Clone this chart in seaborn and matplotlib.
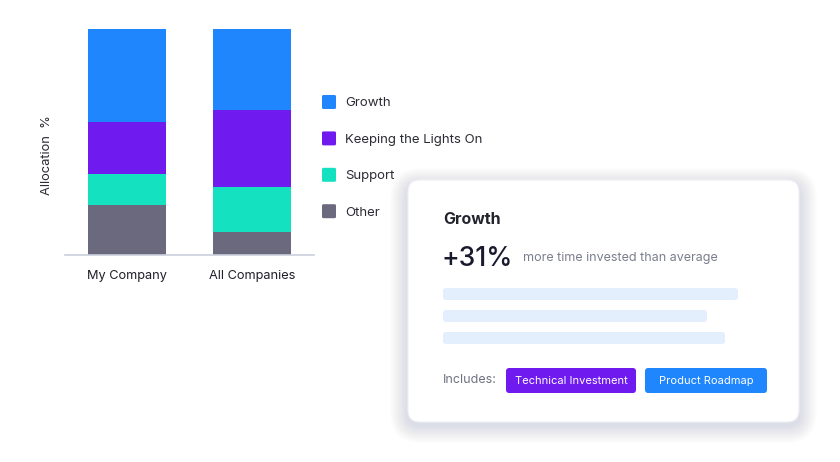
import numpy as np
import pandas as pd
import matplotlib.pyplot as plt
import seaborn as sns
from matplotlib.patches import FancyBboxPatch
from matplotlib.transforms import IdentityTransform

# ---------------------------------------------------------
# Data (allocation %)
# ---------------------------------------------------------
companies = ["My Company", "All Companies"]
categories = ["Growth", "Keeping the Lights On", "Support", "Other"]
growth = [41, 36]
keeping_lights_on = [23, 34]
support = [14, 20]
other = [22, 10]
colors = ["#1F86FE", "#6F1AEE", "#14E1C0", "#6B697D"]

card_title = "Growth"
card_value = "+31%"
card_caption = "more time invested than average"
card_tags = ["Technical Investment", "Product Roadmap"]
tag_colors = ["#6F1AEE", "#1F86FE"]

sns.set_theme(style="white")
plt.rcParams["font.family"] = ["Inter", "DejaVu Sans"]

W, H = 840, 462
fig = plt.figure(figsize=(W / 100, H / 100), dpi=100)
fig.patch.set_facecolor("white")
PX = IdentityTransform()  # pixel coords (origin bottom-left)


def fx(px):
    return px / W


def fy(py):
    return 1 - py / H


def rbox(x0, y0, x1, y1, r, **kw):
    # rounded box given in top-left pixel coordinates
    p = FancyBboxPatch((x0, H - y1), x1 - x0, y1 - y0,
                       boxstyle=f"round,pad=0,rounding_size={r}",
                       transform=PX, edgecolor="none", **kw)
    fig.patches.append(p)
    return p


# ---------------------------------------------------------
# Stacked bars
# ---------------------------------------------------------
ax = fig.add_axes([fx(65), fy(255), fx(314) - fx(65), fy(29) - fy(255)])

df = pd.DataFrame({
    "company": companies,
    "Growth": growth,
    "Keeping the Lights On": keeping_lights_on,
    "Support": support,
    "Other": other,
})
# bottom-up cumulative totals, drawn tallest first so shorter ones overlay
stack_order = categories[::-1]
cum = df[stack_order].cumsum(axis=1).assign(company=df["company"])
for cat in categories:
    sns.barplot(data=cum, x="company", y=cat,
                color=colors[categories.index(cat)], width=0.63,
                saturation=1, ax=ax, linewidth=0)

ax.set_xlim(-0.5, 1.5)
ax.set_ylim(0, 100)
ax.set_yticks([])
ax.set_xlabel("")
ax.set_ylabel("")
for s in ["top", "right", "left"]:
    ax.spines[s].set_visible(False)
ax.spines["bottom"].set_color("#c9cfdb")
ax.spines["bottom"].set_linewidth(1.2)
ax.tick_params(axis="x", length=0, pad=11, labelsize=9.2, labelcolor="#1f1f28")
fig.text(fx(47), fy(155), "Allocation  %", rotation=90, fontsize=9.3,
         color="#2b2b35", ha="center", va="center")

# Legend
for i, (cat, c) in enumerate(zip(categories, colors)):
    y = 102 + i * 36.4
    rbox(322, y - 7, 336, y + 7, 1.5, facecolor=c)
    fig.text(fx(345), fy(y + 1.5), cat, fontsize=9.5, color="#2b2b35", va="center")

# ---------------------------------------------------------
# Info card
# ---------------------------------------------------------
cx0, cy0, cx1, cy1 = 408, 180, 799, 422
for k in range(18, 0, -1):
    rbox(cx0 - k, cy0 - k + 6, cx1 + k, cy1 + k + 3, 12 + k,
         facecolor="#5a6275", alpha=0.006, zorder=2)
card = rbox(cx0, cy0, cx1, cy1, 12, facecolor="white", zorder=3)
card.set_edgecolor("#eef0f4")
card.set_linewidth(0.8)

fig.text(fx(443), fy(219), card_title, fontsize=11.5, fontweight="bold",
         color="#23232d", va="center", zorder=4)
fig.text(fx(442), fy(259), card_value, fontsize=19, fontweight="medium",
         color="#1a1a2e", va="center", zorder=4)
fig.text(fx(523), fy(258), card_caption, fontsize=9, color="#7a7d8c",
         va="center", zorder=4)

for x_end, y in [(738, 294), (707, 316), (725, 338)]:
    rbox(443, y - 6, x_end, y + 6, 3, facecolor="#e3effd", zorder=4)

fig.text(fx(443), fy(380), "Includes:", fontsize=9, color="#6f7282",
         va="center", zorder=4)
for (x0, x1), tag, c in zip([(506, 636), (645, 767)], card_tags, tag_colors):
    rbox(x0, 368, x1, 393, 3, facecolor=c, zorder=4)
    fig.text(fx((x0 + x1) / 2), fy(380.5), tag, fontsize=8, color="white",
             ha="center", va="center", zorder=5)

fig.savefig("out.png", dpi=100)
